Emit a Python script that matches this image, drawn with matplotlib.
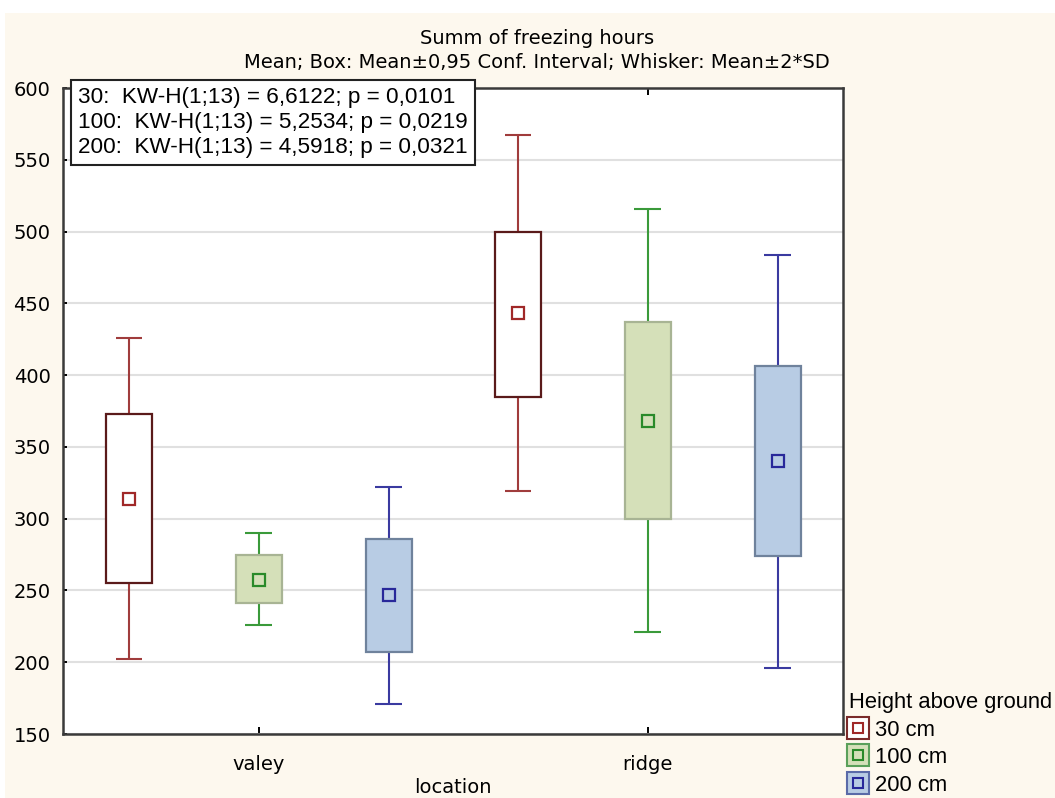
import matplotlib
matplotlib.use("Agg")
import matplotlib.pyplot as plt
from matplotlib.lines import Line2D
from matplotlib.patches import Rectangle
from matplotlib.legend_handler import HandlerTuple

locations = ["valey", "ridge"]
heights = ["30 cm", "100 cm", "200 cm"]
means = [[314, 443], [257, 368], [247, 340]]
box_low = [[255, 385], [241, 300], [207, 274]]
box_high = [[373, 500], [275, 437], [286, 406]]
wh_low = [[202, 319], [226, 221], [171, 196]]
wh_high = [[426, 567], [290, 516], [322, 484]]
stats_text = ["30:  KW-H(1;13) = 6,6122; p = 0,0101",
              "100:  KW-H(1;13) = 5,2534; p = 0,0219",
              "200:  KW-H(1;13) = 4,5918; p = 0,0321"]

box_fill = ["#ffffff", "#d5e0b9", "#b8cce4"]
box_edge = ["#5a1a1a", "#a8b494", "#6f829c"]
wh_color = ["#a03c3c", "#3a9a3a", "#3a3aa0"]
mean_color = ["#a02828", "#2a8a2a", "#28289a"]
leg_edge = ["#7a2a2a", "#5aa05a", "#5a6aa8"]

narrow = ["DejaVu Sans"]
regular = ["Liberation Sans", "DejaVu Sans"]

fig = plt.figure(figsize=(10.55, 7.98), dpi=100, facecolor="#fdf8ee")
fig.patches.append(Rectangle((0, 1 - 13/798), 1, 13/798, transform=fig.transFigure,
                             facecolor="white", edgecolor="none", zorder=-1))
fig.patches.append(Rectangle((0, 0), 5/1055, 1, transform=fig.transFigure,
                             facecolor="white", edgecolor="none", zorder=-1))
ax = fig.add_axes([63/1055, 1 - 734/798, (843 - 63)/1055, (734 - 88)/798])
ax.set_facecolor("white")

offsets = [-0.334, 0.0, 0.334]
bw = 0.118
cap = 0.068
for i in range(3):
    for j in range(2):
        x = j + offsets[i]
        ax.add_patch(Rectangle((x - bw/2, box_low[i][j]), bw, box_high[i][j] - box_low[i][j],
                               facecolor=box_fill[i], edgecolor=box_edge[i], lw=1.6, zorder=3))
        ax.vlines(x, wh_low[i][j], box_low[i][j], color=wh_color[i], lw=1.5, zorder=2)
        ax.vlines(x, box_high[i][j], wh_high[i][j], color=wh_color[i], lw=1.5, zorder=2)
        ax.hlines([wh_low[i][j], wh_high[i][j]], x - cap/2, x + cap/2, color=wh_color[i], lw=1.5, zorder=2)
        ax.plot([x], [means[i][j]], marker="s", ms=8, mfc="none", mec=mean_color[i], mew=1.6, zorder=4)

ax.set_xlim(-0.503, 1.502)
ax.set_ylim(150, 600)
ax.set_yticks(range(150, 601, 50))
ax.set_xticks([0, 1])
ax.set_xticklabels(locations)
ax.yaxis.grid(True, color="#e0e0e0", lw=1.5)
ax.set_axisbelow(True)
ax.tick_params(direction="in", top=True, right=False, width=1.4, labelsize=14)
ax.tick_params(axis="y", length=3, pad=9)
ax.tick_params(axis="x", length=5, pad=15)
for lab in ax.get_xticklabels() + ax.get_yticklabels():
    lab.set_family(narrow)
for s in ax.spines.values():
    s.set_linewidth(1.8)
    s.set_color("#3a3a3a")
ax.set_xlabel("location", family=narrow, fontsize=14, labelpad=3)

fig.text(537/1055, 1 - 38/798, "Summ of freezing hours", ha="center", va="center",
         family=narrow, fontsize=14)
fig.text(537/1055, 1 - 62/798, "Mean; Box: Mean\u00b10,95 Conf. Interval; Whisker: Mean\u00b12*SD",
         ha="center", va="center", family=narrow, fontsize=14)

fig.text(78/1055, 1 - 87/798, "\n".join(stats_text), ha="left", va="top",
         family=regular, fontsize=16.2, linespacing=1.25,
         bbox=dict(boxstyle="square,pad=0.33", facecolor="white", edgecolor="#222222", lw=1.5), zorder=6)

handles = []
for i in range(3):
    outer = Line2D([], [], ls="none", marker="s", ms=16, mfc=box_fill[i], mec=leg_edge[i], mew=1.5)
    inner = Line2D([], [], ls="none", marker="s", ms=7, mfc="none", mec=mean_color[i], mew=1.5)
    handles.append((outer, inner))
leg = fig.legend(handles, heights, handler_map={tuple: HandlerTuple(ndivide=1)},
                 loc="upper left", bbox_to_anchor=(849/1055, 1 - 692/798),
                 title="Height above ground", frameon=False, prop={"family": regular, "size": 15.8},
                 title_fontproperties={"family": regular, "size": 15.8},
                 handlelength=0.8, handletextpad=0.4, labelspacing=0.3, borderpad=0, borderaxespad=0)
leg._legend_box.align = "left"

fig.savefig("out.png", dpi=100, facecolor=fig.get_facecolor())
